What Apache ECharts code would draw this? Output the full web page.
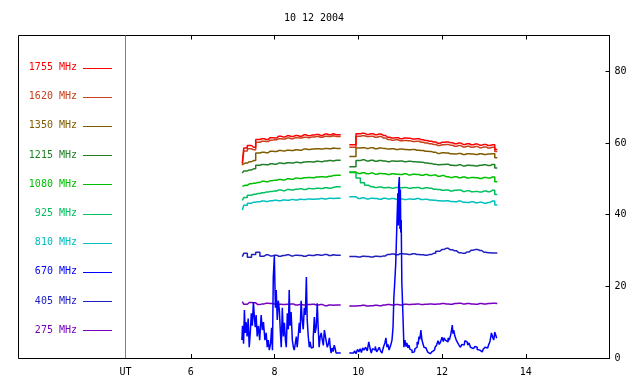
<!DOCTYPE html>
<html>
<head>
<meta charset="utf-8">
<script src="https://cdn.jsdelivr.net/npm/echarts@6/dist/echarts.min.js"></script>
<style>html,body{margin:0;padding:0;background:#fff}#c{width:640px;height:384px}</style>
</head>
<body>
<div id="c"></div>
<script>
// ---- data (flux units vs UT hours) ----
const title = '10 12 2004';
const xTicks = [6, 8, 10, 12, 14];
const yTicks = [0, 20, 40, 60, 80];
const freqs = ['1755 MHz','1620 MHz','1350 MHz','1215 MHz','1080 MHz','925 MHz','810 MHz','670 MHz','405 MHz','275 MHz'];
const colors = ['#ff0000','#c8401c','#805c00','#208028','#00c000','#00c060','#00c0c0','#0000ff','#2020c0','#7800c0'];

const t1 = [7.23,7.3,7.4,7.5,7.6,7.7,7.8,7.9,8.0,8.1,8.2,8.3,8.4,8.5,8.6,8.7,8.8,8.9,9.0,9.1,9.2,9.3,9.4,9.48];
const t2 = [9.89,10.0,10.1,10.2,10.3,10.4,10.5,10.6,10.7,10.8,10.9,11.0,11.1,11.2,11.3,11.4,11.5,11.6,11.7,11.8,11.9,12.0,12.1,12.2,12.3,12.4,12.5,12.6,12.7,12.8,12.9,13.0,13.1,13.2,13.32];

const f1755a = [54.5,58.6,59.3,58.8,61.0,61.2,61.0,61.5,61.4,61.9,61.7,62.0,61.8,62.1,61.9,62.3,62.0,62.2,62.4,62.1,62.5,62.3,62.6,62.3];
const f1755b = [59.5,62.6,62.7,62.4,62.6,62.3,62.5,62.1,61.6,61.4,61.5,61.2,61.4,61.3,61.1,61.2,60.9,60.7,60.5,60.3,59.9,60.2,60.3,60.1,59.8,60.0,59.6,59.8,59.5,59.7,59.4,59.6,59.3,59.5,58.2];
const f1620a = [53.8,57.8,58.4,58.1,60.2,60.5,60.4,60.8,60.9,61.2,61.1,61.4,61.2,61.5,61.4,61.6,61.5,61.7,61.8,61.6,61.9,61.8,62.0,61.8];
const f1620b = [58.8,61.9,62.0,61.8,61.9,61.6,61.8,61.4,61.0,60.8,60.9,60.6,60.7,60.6,60.4,60.5,60.2,60.0,59.8,59.6,59.3,59.5,59.6,59.4,59.1,59.3,58.9,59.1,58.8,59.0,58.7,58.9,58.6,58.8,57.6];
const f1350a = [54.0,54.4,54.8,55.1,57.2,57.4,57.3,57.7,57.6,57.9,57.8,58.0,57.9,58.1,58.0,58.3,58.2,58.3,58.4,58.3,58.5,58.4,58.6,58.5];
const f1350b = [56.2,58.6,58.7,58.5,58.7,58.4,58.6,58.5,58.3,58.4,58.2,58.3,58.2,58.1,58.2,58.0,57.9,57.7,57.6,57.4,57.1,57.3,57.2,57.0,56.9,57.1,56.8,57.0,56.9,56.8,57.0,56.8,56.9,57.0,55.9];
const f1215a = [51.6,52.2,52.5,52.8,53.8,54.0,53.9,54.2,54.1,54.4,54.3,54.5,54.4,54.6,54.5,54.7,54.8,54.7,54.9,54.8,55.0,55.1,55.0,55.2];
const f1215b = [53.4,55.1,55.3,55.0,55.2,54.9,55.1,55.0,54.8,55.0,54.9,55.0,54.8,54.9,54.8,54.7,54.6,54.4,54.3,54.1,53.9,54.0,54.1,53.8,53.7,53.9,53.6,53.8,53.7,53.6,53.8,53.9,53.7,54.0,53.0];
const f1080a = [47.9,48.2,48.6,48.8,49.0,49.3,49.2,49.5,49.6,49.8,49.7,50.0,49.9,50.2,50.1,50.3,50.4,50.3,50.5,50.6,50.5,50.7,50.9,51.0];
const f1080b = [51.9,51.5,51.7,51.4,51.6,51.3,51.5,51.4,51.2,51.4,51.3,51.2,51.4,51.1,51.3,51.2,51.0,51.2,50.9,51.1,50.7,50.9,50.6,50.4,50.6,50.3,50.5,50.2,50.4,50.3,50.1,50.4,50.2,50.5,49.2];
const f925a = [44.0,44.8,45.4,45.7,45.9,46.1,46.3,46.5,46.6,46.9,46.7,47.0,46.9,47.1,47.2,47.0,47.3,47.2,47.4,47.3,47.5,47.4,47.6,47.8];
const f925b = [51.8,50.2,48.9,48.2,47.8,47.6,47.7,47.5,47.6,47.4,47.6,47.5,47.6,47.4,47.5,47.6,47.3,47.5,47.4,47.1,47.0,46.8,46.9,46.6,46.8,46.9,46.5,46.7,46.4,46.5,46.3,46.6,46.4,46.8,45.6];
const f810a = [41.3,42.6,43.2,43.5,43.6,43.8,43.7,43.9,44.0,43.9,44.1,44.0,44.2,44.1,44.3,44.2,44.4,44.3,44.4,44.5,44.4,44.6,44.5,44.6];
const f810b = [45.0,44.5,44.7,44.4,44.6,44.5,44.3,44.6,44.4,44.5,44.3,44.4,44.2,44.4,44.3,44.5,44.2,44.3,44.1,44.0,43.9,43.8,43.9,43.7,43.6,43.8,43.5,43.4,43.6,43.3,43.5,43.2,43.4,43.8,42.7];
const f405a = [28.3,29.2,28.1,28.9,29.5,28.4,28.8,28.5,28.7,28.4,28.6,28.8,28.5,28.7,28.6,28.4,28.7,28.6,28.8,28.7,28.9,28.6,28.8,28.7];
const f405b = [28.3,28.2,28.4,28.3,28.2,28.4,28.3,28.5,28.9,29.0,28.8,29.1,29.0,28.9,29.1,28.9,28.8,28.7,28.9,29.2,29.8,30.3,30.6,30.2,29.9,29.4,29.2,29.6,30.1,30.3,30.0,29.5,29.4,29.3,29.3];
const f275a = [15.7,15.0,15.5,15.4,14.9,15.1,15.3,15.2,15.1,15.0,14.9,15.0,15.1,14.8,14.9,14.8,14.9,15.0,14.8,14.9,14.6,14.8,14.7,14.8];
const f275b = [14.5,14.6,14.7,14.5,14.6,14.7,14.6,14.8,14.9,14.8,14.9,14.8,15.0,14.9,15.0,15.1,14.9,15.0,15.1,15.0,15.1,15.2,15.1,15.0,15.2,15.3,15.1,15.2,15.1,15.0,15.2,15.1,15.2,15.3,15.2];

const t670a = [7.22,7.25,7.27,7.29,7.31,7.33,7.36,7.38,7.41,7.43,7.46,7.48,7.51,7.53,7.55,7.57,7.60,7.63,7.66,7.70,7.72,7.75,7.79,7.81,7.84,7.86,7.89,7.92,7.94,7.96,7.98,8.01,8.03,8.05,8.08,8.10,8.13,8.15,8.17,8.20,8.22,8.25,8.27,8.29,8.32,8.34,8.36,8.38,8.41,8.44,8.46,8.48,8.51,8.53,8.55,8.58,8.60,8.62,8.65,8.67,8.70,8.72,8.75,8.77,8.79,8.82,8.84,8.86,8.89,8.91,8.94,8.96,8.98,9.01,9.03,9.05,9.08,9.10,9.13,9.15,9.18,9.20,9.23,9.25,9.27,9.30,9.32,9.34,9.36,9.39,9.41,9.44,9.46,9.48];
const f670a = [5,9,4,13.4,7,10,6,11,3,7,12.5,9,15.6,11,8.6,12,6,9,5,12,7.8,10,5,7,3,5,2.2,4,8.4,2.2,22.6,28.5,14,19,10.6,16,13.4,7,3,14,6,9.8,5,3,12.5,8,19,9,12.8,5,3,2.2,4,6,3,6,9.8,7,16,10.6,8,14,12,22.6,10.6,6,3,4.5,2.8,3,6,11.4,7,8.6,15.3,9,3,6,7,5,3.5,7.8,6,4.2,3,4,5.6,3,1.4,2.8,1.8,3.6,2.5,1.4];
const t670b = [9.89,9.93,9.96,10.00,10.03,10.06,10.09,10.12,10.15,10.20,10.23,10.27,10.30,10.32,10.36,10.39,10.42,10.46,10.49,10.51,10.55,10.58,10.62,10.65,10.67,10.70,10.72,10.75,10.79,10.82,10.84,10.86,10.88,10.91,10.94,10.95,10.96,10.97,10.99,11.00,11.01,11.02,11.03,11.05,11.08,11.10,11.13,11.15,11.17,11.20,11.22,11.25,11.27,11.30,11.34,11.37,11.39,11.42,11.44,11.46,11.48,11.51,11.53,11.56,11.58,11.62,11.65,11.68,11.72,11.75,11.78,11.82,11.85,11.89,11.92,11.95,11.98,12.02,12.04,12.06,12.10,12.13,12.16,12.19,12.22,12.24,12.25,12.27,12.29,12.32,12.36,12.39,12.42,12.46,12.49,12.53,12.56,12.60,12.63,12.66,12.70,12.73,12.77,12.80,12.82,12.86,12.89,12.92,12.96,13.00,13.05,13.09,13.13,13.16,13.20,13.22,13.25,13.27,13.29,13.32];
const f670b = [1.4,2.0,1.2,2.4,1.7,2.6,1.5,2.8,2.2,3,2.0,4.5,2.5,1.4,2.6,2.2,3.2,1.7,2.4,3,2.0,1.4,3.0,4.2,5.6,3,3.8,2.2,3.4,5,8.6,17,21,26.5,38.5,46,37,48,50.5,36,47,35,38.5,21,12.5,3,5,3.2,4.2,2.8,3.6,2.4,2.2,1.5,1.7,2.6,3,4.5,3.8,6,5.2,7.8,5,4.0,3,2.8,2.2,1.6,1.2,0.8,1.8,2.2,3.0,3.6,4.8,3.8,4.5,5.8,4.6,5.6,5.0,4.5,5.6,5.0,6.4,8.0,9.2,6.8,7.8,6.2,5,4.2,3.6,3,3.8,3.6,4.8,4.5,3.6,4.2,3,2.6,2.2,3.2,3,2.4,2.2,1.8,1.7,2.4,3,2.8,3.6,4.6,7,5.8,5,7.2,6.5,5.5];

// ---- build ----
const FONT = '"DejaVu Sans Mono", monospace';
function seg(ta, va, tb, vb) {
  return ta.map((t, i) => [t, va[i]]).concat([[9.68, null]]).concat(tb.map((t, i) => [t, vb[i]]));
}
const lines = {
  '1755 MHz': seg(t1, f1755a, t2, f1755b),
  '1620 MHz': seg(t1, f1620a, t2, f1620b),
  '1350 MHz': seg(t1, f1350a, t2, f1350b),
  '1215 MHz': seg(t1, f1215a, t2, f1215b),
  '1080 MHz': seg(t1, f1080a, t2, f1080b),
  '925 MHz': seg(t1, f925a, t2, f925b),
  '810 MHz': seg(t1, f810a, t2, f810b),
  '670 MHz': seg(t670a, f670a, t670b, f670b),
  '405 MHz': seg(t1, f405a, t2, f405b),
  '275 MHz': seg(t1, f275a, t2, f275b)
};
const drawOrder = ['275 MHz','405 MHz','810 MHz','925 MHz','1080 MHz','1215 MHz','1350 MHz','1620 MHz','1755 MHz','670 MHz'];
const series = drawOrder.map(name => {
  const i = freqs.indexOf(name);
  return {
    name, type: 'line', data: lines[name], showSymbol: false, symbol: 'none',
    step: 'middle', connectNulls: false, animation: false,
    lineStyle: { color: colors[i], width: name === '670 MHz' ? 1.5 : 1.5 },
    xAxisIndex: 0, yAxisIndex: 0
  };
});

const graphics = [
  { type: 'rect', shape: { x: 18.5, y: 35.5, width: 591, height: 323 }, style: { fill: 'none', stroke: '#000', lineWidth: 1 }, z: 10 },
  { type: 'line', shape: { x1: 125.5, y1: 35.5, x2: 125.5, y2: 358 }, style: { stroke: '#808080', lineWidth: 1 }, z: 10 }
];
freqs.forEach((f, i) => {
  const y = 67.5 + i * 29.2;
  graphics.push({ type: 'text', style: { text: f, x: 77, y: y, align: 'right', verticalAlign: 'middle', fill: colors[i], font: '10px ' + FONT }, z: 10 });
  graphics.push({ type: 'line', shape: { x1: 83, y1: Math.round(y) + 0.5, x2: 112, y2: Math.round(y) + 0.5 }, style: { stroke: colors[i], lineWidth: 1 }, z: 10 });
});
graphics.push({ type: 'text', style: { text: title, x: 314, y: 18, align: 'center', verticalAlign: 'middle', fill: '#000', font: '10px ' + FONT }, z: 10 });

const chart = echarts.init(document.getElementById('c'), null, { renderer: 'canvas' });
chart.setOption({
  animation: false,
  backgroundColor: '#fff',
  grid: { left: 125.5, right: 30.5, top: 35.5, bottom: 26, containLabel: false },
  xAxis: [
    {
      type: 'value', position: 'bottom', min: 4.44, max: 16,
      axisLine: { show: true, lineStyle: { color: '#000', width: 1 } },
      axisTick: { show: true, inside: true, length: 4, customValues: xTicks, lineStyle: { color: '#000' } },
      axisLabel: { show: true, customValues: [4.44].concat(xTicks), margin: 9, color: '#000', fontSize: 10, fontFamily: FONT,
        formatter: v => (v < 5 ? 'UT' : String(v)) },
      splitLine: { show: false }
    },
    {
      type: 'value', position: 'top', min: 4.44, max: 16,
      axisLine: { show: true, lineStyle: { color: '#000', width: 1 } },
      axisTick: { show: true, inside: true, length: 4, customValues: xTicks, lineStyle: { color: '#000' } },
      axisLabel: { show: false },
      splitLine: { show: false }
    }
  ],
  yAxis: [
    {
      type: 'value', position: 'right', min: 0, max: 90,
      axisLine: { show: true, lineStyle: { color: '#000', width: 1 } },
      axisTick: { show: true, inside: true, length: 4, customValues: yTicks, lineStyle: { color: '#000' } },
      axisLabel: { show: true, customValues: yTicks, margin: 5, color: '#000', fontSize: 10, fontFamily: FONT },
      splitLine: { show: false }
    }
  ],
  series: series,
  graphic: graphics
});
</script>
</body>
</html>
